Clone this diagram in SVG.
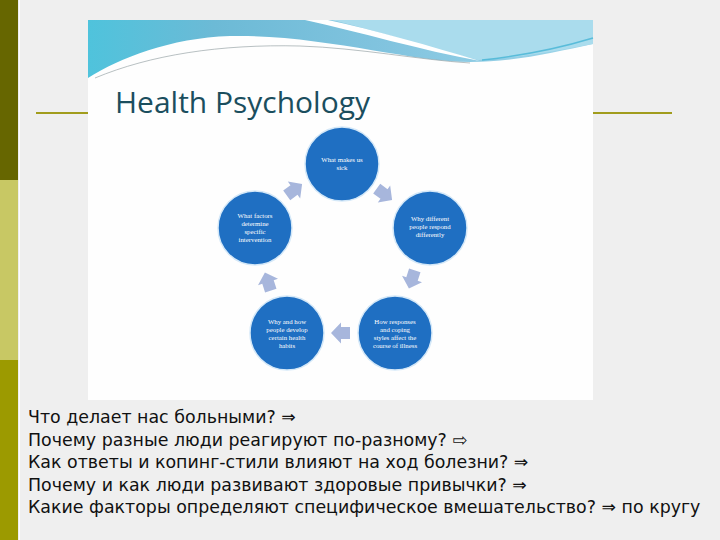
<svg xmlns="http://www.w3.org/2000/svg" width="720" height="540" viewBox="0 0 720 540">
<defs>
<style>
.bar{stroke:none}
.rule{stroke:#a19c1c;stroke-width:2;fill:none}
.node circle{fill:#1f6fc2;stroke:#d4e8f8;stroke-width:1.5}
.node text{fill:#ffffff;font-family:"Liberation Serif",serif;font-size:6.8px;text-anchor:middle}
.arrow{fill:#a7b6dc}
.ru{font-family:"DejaVu Sans",sans-serif;font-size:17.4px;fill:#111111}
.title{font-family:"Open Sans","Liberation Sans",sans-serif;font-size:29px;fill:#1b4e5e}
</style>
<linearGradient id="band" x1="0" y1="0" x2="1" y2="0">
<stop offset="0" stop-color="#4fc3dc"/>
<stop offset="0.25" stop-color="#6cbad6"/>
<stop offset="0.6" stop-color="#82c4df"/>
<stop offset="1" stop-color="#9fd6ea"/>
</linearGradient>
<polygon id="blk" points="-9,-6 0,-6 0,-10.5 10,0 0,10.5 0,6 -9,6"/>
</defs>
<rect width="720" height="540" fill="#efefef"/>
<rect class="bar" x="0" y="0" width="18" height="180" fill="#666600"/>
<rect class="bar" x="0" y="180" width="18" height="180" fill="#c8c864"/>
<rect class="bar" x="0" y="360" width="18" height="180" fill="#9c9a00"/>
<line x1="19.5" y1="0" x2="19.5" y2="540" stroke="#ffffff" stroke-width="1"/>
<line class="rule" x1="36" y1="113" x2="88" y2="113"/>
<line class="rule" x1="593" y1="113" x2="672" y2="113"/>
<g id="panel">
<rect x="88" y="20" width="505" height="380" fill="#fefefe"/>
<path d="M88,20 H593 V44 C555,52 515,62 470,62 C410,62 320,34 230,36 C170,38 120,58 88,78 Z" fill="url(#band)"/>
<path d="M330,20 H593 V44 C560,50 520,58 478,60 C420,46 370,28 330,20 Z" fill="#aadced"/>
<path d="M305,20 L328,20 C375,30 430,46 480,61 C420,50 360,32 305,20 Z" fill="#ffffff"/>
<path d="M482,60 C520,56 560,48 593,38" stroke="#45b4d4" stroke-width="1.5" fill="none" opacity="0.8"/>
<path d="M95,78 C150,55 220,44 300,46 C360,48 420,60 470,63" stroke="#9aa5a8" stroke-width="0.7" fill="none"/>
<text class="title" x="115" y="113" textLength="255" lengthAdjust="spacingAndGlyphs">Health Psychology</text>
</g>
<g id="connectors">
<use href="#blk" class="arrow" transform="translate(384,194) rotate(36)"/>
<use href="#blk" class="arrow" transform="translate(412,279) rotate(108)"/>
<use href="#blk" class="arrow" transform="translate(341,333) rotate(180)"/>
<use href="#blk" class="arrow" transform="translate(268,282) rotate(252)"/>
<use href="#blk" class="arrow" transform="translate(294,190) rotate(324)"/>
</g>
<g id="n1" class="node">
<circle cx="342" cy="164" r="37"/>
<text x="342" y="162">What makes us</text>
<text x="342" y="170">sick</text>
</g>
<g id="n2" class="node">
<circle cx="430" cy="228" r="37"/>
<text x="430" y="221">Why different</text>
<text x="430" y="229">people respond</text>
<text x="430" y="237">differently</text>
</g>
<g id="n3" class="node">
<circle cx="395" cy="333" r="37"/>
<text x="395" y="324">How responses</text>
<text x="395" y="332">and coping</text>
<text x="395" y="340">styles affect the</text>
<text x="395" y="348">course of illness</text>
</g>
<g id="n4" class="node">
<circle cx="287" cy="333" r="37"/>
<text x="287" y="324">Why and how</text>
<text x="287" y="332">people develop</text>
<text x="287" y="340">certain health</text>
<text x="287" y="348">habits</text>
</g>
<g id="n5" class="node">
<circle cx="255" cy="228" r="37"/>
<text x="255" y="218">What factors</text>
<text x="255" y="226">determine</text>
<text x="255" y="234">specific</text>
<text x="255" y="242">intervention</text>
</g>
<g id="caption">
<text class="ru" x="28" y="423">Что делает нас больными? ⇒</text>
<text class="ru" x="28" y="445.5">Почему разные люди реагируют по-разному? ⇨</text>
<text class="ru" x="28" y="468">Как ответы и копинг-стили влияют на ход болезни? ⇒</text>
<text class="ru" x="28" y="490.5">Почему и как люди развивают здоровые привычки? ⇒</text>
<text class="ru" x="28" y="513">Какие факторы определяют специфическое вмешательство? ⇒ по кругу</text>
</g>
</svg>
